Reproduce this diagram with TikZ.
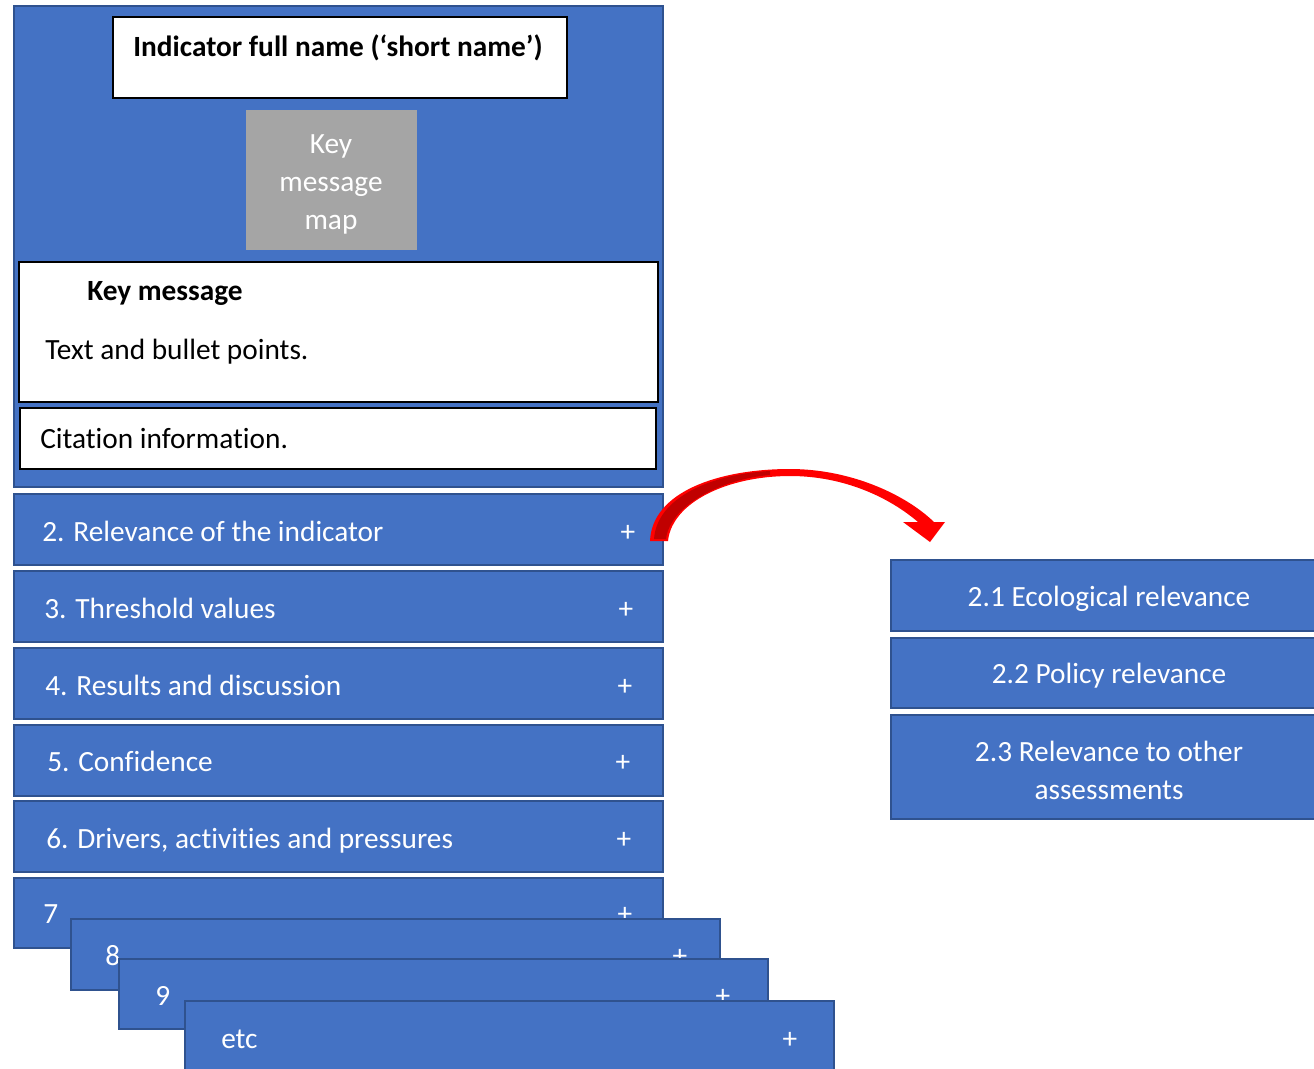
\documentclass[tikz,border=0pt]{standalone}
\usepackage{fontspec}
\setmainfont[Ligatures=NoCommon]{Carlito}
\usetikzlibrary{fit}
\definecolor{bfill}{HTML}{4472C4}
\definecolor{bline}{HTML}{2F528F}
\definecolor{kgray}{HTML}{A5A5A5}
\definecolor{dred}{HTML}{C00000}
\begin{document}
\begin{tikzpicture}[x=0.75pt,y=-0.75pt,
  bluebox/.style={draw=bline, fill=bfill, line width=1.5pt, inner sep=0pt},
  whitebox/.style={draw=black, fill=white, line width=1.5pt, inner sep=0pt},
  graybox/.style={draw=none, fill=kgray, inner sep=0pt},
  lbl/.style={anchor=base west, inner sep=0pt, font=\fontsize{22}{28}\selectfont, text=white},
  plus/.style={anchor=base, inner sep=0pt, font=\fontsize{22}{28}\selectfont, text=white},
  dark/.style={anchor=base west, inner sep=0pt, font=\fontsize{22}{28}\selectfont, text=black},
  ctr/.style={align=center, inner sep=0pt, font=\fontsize{22}{28.5}\selectfont, text=white}]
\clip (0,0) rectangle (1314,1068);
\useasboundingbox (0,0) rectangle (1314,1068);

% top panel
\node[bluebox, fit={(14,6) (663,487)}] (panel) {};
\node[whitebox, fit={(113,17) (567,98)}] (title) {};
\node[dark, anchor=base, font=\bfseries\fontsize{22}{28}\selectfont] (titletxt) at (338,56) {Indicator full name (‘short name’)};
\node[graybox, fit={(246,110) (417,250)}] (map) {};
\node[ctr] (maptxt) at (331,184) {Key\\message\\map};
\node[whitebox, fit={(19,262) (658,402)}] (keymsg) {};
\node[dark, font=\bfseries\fontsize{22}{28}\selectfont] (kmtitle) at (87,300) {Key message};
\node[dark] (kmtext) at (45,359) {Text and bullet points.};
\node[whitebox, fit={(20,408) (656,469)}] (cite) {};
\node[dark] (citetxt) at (40,448) {Citation information.};

% section rows
\node[bluebox, fit={(14,494) (663,565)}] (r2) {};
\node[lbl] (r2t) at (42,541) {2. Relevance of the indicator};
\node[plus] (r2p) at (628,541) {+};
\node[bluebox, fit={(14,571) (663,642)}] (r3) {};
\node[lbl] (r3t) at (44,618) {3. Threshold values};
\node[plus] (r3p) at (626,618) {+};
\node[bluebox, fit={(14,648) (663,719)}] (r4) {};
\node[lbl] (r4t) at (45,695) {4. Results and discussion};
\node[plus] (r4p) at (625,695) {+};
\node[bluebox, fit={(14,725) (663,796)}] (r5) {};
\node[lbl] (r5t) at (47,771) {5. Confidence};
\node[plus] (r5p) at (623,771) {+};
\node[bluebox, fit={(14,801) (663,872)}] (r6) {};
\node[lbl] (r6t) at (46,848) {6. Drivers, activities and pressures};
\node[plus] (r6p) at (624,848) {+};
\node[bluebox, fit={(14,878) (663,948)}] (r7) {};
\node[lbl] (r7t) at (43,923) {7};
\node[plus] (r7p) at (625,923) {+};
\node[bluebox, fit={(71,919) (720,990)}] (r8) {};
\node[lbl] (r8t) at (105,965) {8};
\node[plus] (r8p) at (680,965) {+};
\node[bluebox, fit={(119,959) (768,1029)}] (r9) {};
\node[lbl] (r9t) at (155,1005) {9};
\node[plus] (r9p) at (723,1005) {+};
\node[bluebox, fit={(185,1001) (834,1080)}] (retc) {};
\node[lbl] (retct) at (221,1048) {etc};
\node[plus] (retcp) at (790,1048) {+};

% right sub-boxes
\node[bluebox, fit={(891,560) (1330,631)}] (s1) {};
\node[ctr] (s1t) at (1109,599) {2.1 Ecological relevance};
\node[bluebox, fit={(891,638) (1330,708)}] (s2) {};
\node[ctr] (s2t) at (1109,676) {2.2 Policy relevance};
\node[bluebox, fit={(891,715) (1330,819)}] (s3) {};
\node[ctr] (s3t) at (1109,770) {2.3 Relevance to other\\assessments};

% curved red arrow
\fill[red] (650,541) .. controls (652,492) and (718,469) .. (790,469)
  .. controls (850,469) and (905,494) .. (934,522) -- (945,522) -- (930,542) -- (903,522) -- (918,522)
  .. controls (890,498) and (845,476) .. (790,476)
  .. controls (728,476) and (672,502) .. (668,541) -- cycle;
\fill[dred] (654,539) .. controls (657,497) and (712,474) .. (770,471)
  -- (770,475) .. controls (722,479) and (670,505) .. (666,539) -- cycle;
\end{tikzpicture}
\end{document}
